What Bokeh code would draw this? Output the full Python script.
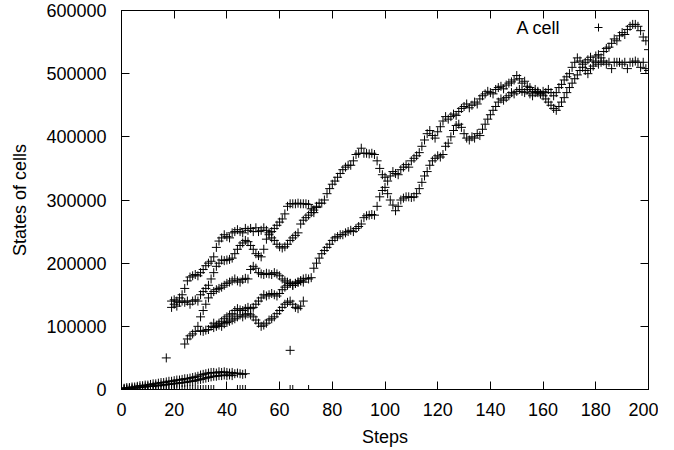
from bokeh.plotting import figure
from bokeh.models import (Range1d, LinearAxis, SingleIntervalTicker, BasicTickFormatter,
                          Legend, LegendItem, Label, ColumnDataSource)
from bokeh.embed import file_html
from bokeh.resources import INLINE
from bokeh.core.properties import value

# ---------------- data ----------------
top_steps = list(range(19, 201))
top_vals = [140000, 142000, 140000, 145000, 150000, 160000, 172000, 178000, 180000, 182000,
            180000, 185000, 190000, 196000, 200000, 203000, 210000, 225000, 235000, 240000,
            245000, 242000, 240000, 248000, 250000, 253000, 250000, 248000, 255000, 252000,
            255000, 250000, 256000, 250000, 252000, 256000, 252000, 248000, 250000, 255000,
            260000, 265000, 270000, 278000, 290000, 294000, 294000, 294000, 295000, 294000,
            294000, 294000, 293000, 286000, 280000, 290000, 295000, 295000, 300000, 310000,
            318000, 325000, 330000, 336000, 342000, 348000, 352000, 355000, 355000, 362000,
            372000, 374000, 382000, 374000, 374000, 373000, 374000, 372000, 362000, 350000,
            340000, 336000, 330000, 338000, 345000, 342000, 340000, 348000, 352000, 356000,
            352000, 362000, 366000, 370000, 375000, 385000, 395000, 405000, 410000, 402000,
            398000, 408000, 416000, 425000, 432000, 428000, 432000, 436000, 434000, 440000,
            445000, 448000, 452000, 446000, 450000, 455000, 452000, 460000, 465000, 468000,
            472000, 470000, 468000, 475000, 478000, 480000, 476000, 482000, 485000, 487000,
            490000, 497000, 492000, 485000, 488000, 480000, 478000, 472000, 475000, 470000,
            468000, 472000, 470000, 475000, 470000, 465000, 470000, 478000, 483000, 490000,
            495000, 500000, 510000, 518000, 525000, 520000, 515000, 518000, 522000, 526000,
            520000, 528000, 530000, 525000, 535000, 540000, 542000, 548000, 555000, 552000,
            560000, 565000, 562000, 570000, 575000, 578000, 578000, 575000, 568000, 558000,
            552000, 538000]

second_steps = list(range(19, 75))
second_vals = [130000, 135000, 132000, 138000, 140000, 138000, 140000, 135000, 140000, 142000,
               140000, 150000, 155000, 160000, 165000, 175000, 185000, 195000, 200000, 205000,
               204000, 205000, 206000, 208000, 215000, 222000, 228000, 232000, 236000, 234000,
               228000, 222000, 215000, 212000, 210000, 222000, 238000, 245000, 240000, 236000,
               230000, 226000, 224000, 226000, 230000, 236000, 240000, 244000, 248000, 262000,
               268000, 272000, 276000, 280000, 284000, 288000]

lower_steps = list(range(24, 201))
lower_vals = [72000, 80000, 85000, 88000, 92000, 100000, 115000, 125000, 135000, 145000,
              152000, 155000, 158000, 160000, 162000, 165000, 168000, 170000, 172000, 175000,
              172000, 170000, 174000, 176000, 175000, 190000, 195000, 192000, 185000, 183000,
              182000, 184000, 183000, 182000, 185000, 183000, 180000, 175000, 172000, 170000,
              168000, 165000, 168000, 170000, 172000, 175000, 176000, 175000, 177000, 192000,
              200000, 208000, 215000, 220000, 225000, 230000, 236000, 240000, 242000, 245000,
              245000, 248000, 250000, 252000, 250000, 255000, 258000, 262000, 272000, 275000,
              276000, 277000, 276000, 290000, 305000, 315000, 320000, 310000, 300000, 292000,
              283000, 290000, 300000, 303000, 305000, 305000, 304000, 305000, 310000, 318000,
              328000, 338000, 345000, 355000, 362000, 366000, 370000, 368000, 372000, 385000,
              390000, 400000, 410000, 418000, 420000, 415000, 405000, 398000, 395000, 400000,
              398000, 405000, 402000, 412000, 420000, 428000, 435000, 442000, 448000, 455000,
              460000, 458000, 462000, 465000, 470000, 468000, 472000, 475000, 472000, 470000,
              475000, 468000, 465000, 470000, 472000, 468000, 465000, 460000, 455000, 450000,
              445000, 442000, 448000, 455000, 462000, 470000, 478000, 485000, 492000, 498000,
              505000, 510000, 505000, 500000, 508000, 512000, 518000, 515000, 518000, 520000,
              515000, 518000, 508000, 518000, 518000, 518000, 515000, 518000, 508000, 518000,
              518000, 520000, 518000, 510000, 518000, 508000, 505000]

fourth_steps = list(range(30, 70))
fourth_vals = [93000, 92000, 94000, 95000, 100000, 105000, 102000, 105000, 108000, 112000,
               115000, 118000, 120000, 125000, 128000, 126000, 125000, 128000, 130000, 128000,
               130000, 135000, 140000, 145000, 150000, 148000, 150000, 152000, 150000, 148000,
               152000, 158000, 162000, 165000, 168000, 165000, 168000, 170000, 172000, 170000]

fifth_steps = list(range(35, 70))
fifth_vals = [98000, 100000, 102000, 100000, 104000, 106000, 108000, 110000, 112000, 115000,
              118000, 115000, 118000, 120000, 118000, 115000, 110000, 105000, 100000, 102000,
              105000, 110000, 112000, 115000, 120000, 125000, 130000, 135000, 138000, 140000,
              135000, 130000, 128000, 132000, 140000]

low1_steps = list(range(0, 48))
low1_vals = [2000, 2000, 3000, 3000, 4000, 4000, 5000, 6000, 6000, 7000,
             7000, 8000, 9000, 9000, 10000, 11000, 11000, 12000, 13000, 13000,
             14000, 15000, 15000, 16000, 17000, 17000, 18000, 19000, 20000, 21000,
             23000, 24000, 25000, 26000, 27000, 27000, 26000, 28000, 27000, 28000,
             27000, 26000, 27000, 25000, 26000, 25000, 24000, 25000]

low2_steps = list(range(0, 43))
low2_vals = [0, 1000, 1000, 2000, 2000, 2000, 3000, 3000, 4000, 4000,
             5000, 5000, 5000, 6000, 6000, 7000, 7000, 8000, 8000, 9000,
             9000, 10000, 10000, 11000, 11000, 12000, 13000, 13000, 14000, 15000,
             16000, 17000, 18000, 19000, 20000, 21000, 21000, 22000, 22000, 23000,
             22000, 23000, 22000]

zero_steps = list(range(0, 36)) + [44, 45, 46, 47, 64, 65, 71]
zero_vals = [0] * len(zero_steps)

stray_steps = [17, 64]
stray_vals = [50000, 62000]

all_x = (top_steps + second_steps + lower_steps + fourth_steps + fifth_steps +
         low1_steps + low2_steps + zero_steps + stray_steps)
all_y = (top_vals + second_vals + lower_vals + fourth_vals + fifth_vals +
         low1_vals + low2_vals + zero_vals + stray_vals)

x_ticks_interval = 20
y_ticks_interval = 100000

# ---------------- figure ----------------
FONT = "Liberation Sans"
FS = "18px"

p = figure(width=658, height=450, output_backend="svg", toolbar_location=None,
           x_range=Range1d(0, 200), y_range=Range1d(0, 600000),
           min_border_left=121, min_border_right=10, min_border_top=10, min_border_bottom=61)
p.background_fill_color = "white"
p.border_fill_color = "white"
p.outline_line_color = "black"
p.outline_line_width = 1
p.xgrid.visible = False
p.ygrid.visible = False

src = ColumnDataSource(dict(x=all_x, y=all_y))
r = p.scatter("x", "y", source=src, marker="cross", size=9, line_color="black",
              line_width=1)

def style_axis(ax, ticker, labels=True):
    ax.ticker = ticker
    ax.major_tick_in = 8
    ax.major_tick_out = 0
    ax.minor_tick_line_color = None
    ax.axis_line_color = "black"
    ax.major_tick_line_color = "black"
    if labels:
        ax.major_label_text_font = FONT
        ax.major_label_text_font_size = FS
        ax.major_label_text_color = "black"
        ax.axis_label_text_font = FONT
        ax.axis_label_text_font_size = FS
        ax.axis_label_text_font_style = "normal"
        ax.axis_label_text_color = "black"
    else:
        # mirrored tick marks only (gnuplot style): labels are not drawn
        ax.major_label_text_font_size = "1px"
        ax.major_label_text_color = None
        ax.major_label_text_alpha = 0
        ax.major_label_standoff = 0

style_axis(p.xaxis[0], SingleIntervalTicker(interval=x_ticks_interval))
style_axis(p.yaxis[0], SingleIntervalTicker(interval=y_ticks_interval))
p.yaxis[0].formatter = BasicTickFormatter(use_scientific=False)
p.xaxis[0].axis_label = "Steps"
p.yaxis[0].axis_label = "States of cells"
p.xaxis[0].major_label_standoff = 9
p.xaxis[0].axis_label_standoff = 8
p.yaxis[0].major_label_standoff = 11
p.yaxis[0].axis_label_standoff = 13

top_ax = LinearAxis()
style_axis(top_ax, SingleIntervalTicker(interval=x_ticks_interval), labels=False)
p.add_layout(top_ax, "above")
right_ax = LinearAxis()
style_axis(right_ax, SingleIntervalTicker(interval=y_ticks_interval), labels=False)
p.add_layout(right_ax, "right")

# key: text on the left, sample on the right (gnuplot style)
p.add_layout(Label(x=439, y=362, x_units="screen", y_units="screen", text="A cell",
                   text_align="right", text_baseline="middle", text_font=FONT,
                   text_font_size=FS, text_color="black"))
legend = Legend(items=[LegendItem(label=value(""), renderers=[r])], location=(467, 352),
                padding=0, margin=0, spacing=0, glyph_width=20, glyph_height=20,
                label_width=0, label_standoff=0, label_text_font_size="1px",
                label_text_color=None, label_text_alpha=0,
                border_line_color=None, background_fill_alpha=0)
p.add_layout(legend, "center")

open("out.html", "w").write(file_html(p, INLINE))
